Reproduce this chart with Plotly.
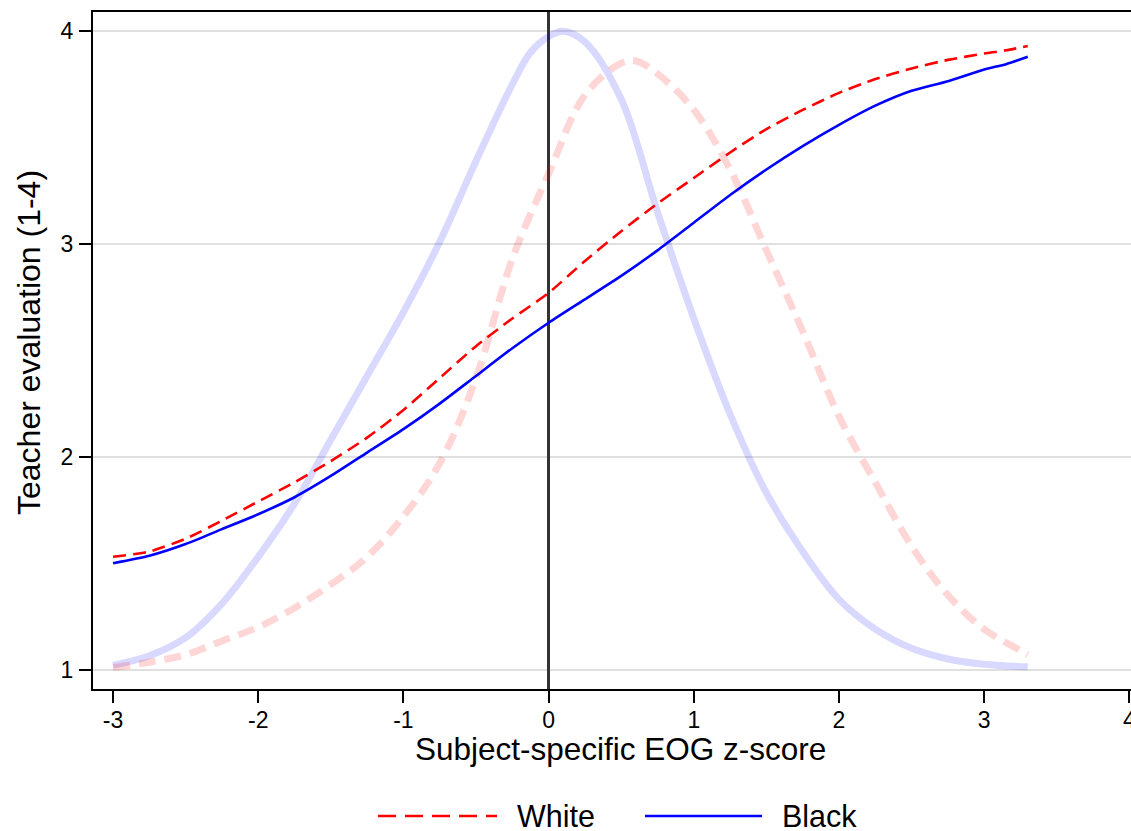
import plotly.graph_objects as go

# ---------------- data ----------------
z_grid = [-3.0, -2.75, -2.5, -2.25, -2.0, -1.75, -1.5, -1.25, -1.0, -0.75, -0.5, -0.25,
          0.0, 0.25, 0.5, 0.75, 1.0, 1.25, 1.5, 1.75, 2.0, 2.25, 2.5, 2.75, 3.0, 3.15, 3.3]

white_eval = [1.53, 1.555, 1.615, 1.70, 1.79, 1.88, 1.98, 2.09, 2.22, 2.37, 2.52, 2.65,
              2.77, 2.92, 3.06, 3.19, 3.31, 3.43, 3.54, 3.63, 3.71, 3.775, 3.825, 3.865, 3.895, 3.91, 3.93]
black_eval = [1.50, 1.535, 1.59, 1.66, 1.73, 1.81, 1.91, 2.02, 2.13, 2.25, 2.38, 2.51,
              2.63, 2.74, 2.85, 2.97, 3.10, 3.23, 3.35, 3.46, 3.56, 3.65, 3.72, 3.765, 3.82, 3.845, 3.88]

dens_x_black = [-3.0, -2.75, -2.5, -2.25, -2.0, -1.75, -1.5, -1.25, -1.0, -0.75, -0.5, -0.25,
                -0.125, 0.0, 0.1, 0.25, 0.5, 0.75, 1.0, 1.25, 1.5, 1.75, 2.0, 2.25, 2.5, 2.75, 3.0, 3.3]
dens_black = [1.02, 1.065, 1.15, 1.31, 1.53, 1.78, 2.08, 2.38, 2.68, 3.01, 3.39, 3.75,
              3.90, 3.975, 4.0, 3.95, 3.68, 3.15, 2.65, 2.20, 1.83, 1.555, 1.33, 1.19, 1.10, 1.05, 1.025, 1.013]

dens_x_white = [-3.0, -2.75, -2.5, -2.25, -2.0, -1.75, -1.5, -1.25, -1.0, -0.75, -0.5, -0.25,
                0.0, 0.25, 0.5, 0.6, 0.75, 1.0, 1.25, 1.5, 1.75, 2.0, 2.25, 2.5, 2.75, 3.0, 3.25, 3.3]
dens_white = [1.01, 1.035, 1.07, 1.135, 1.20, 1.29, 1.40, 1.53, 1.72, 1.97, 2.37, 2.93,
              3.33, 3.70, 3.85, 3.86, 3.80, 3.63, 3.35, 2.97, 2.59, 2.19, 1.88, 1.58, 1.35, 1.19, 1.09, 1.07]

x_ticks = [-3, -2, -1, 0, 1, 2, 3, 4]
y_ticks = [1, 2, 3, 4]
series_names = ["White", "Black"]

# ---------------- layout constants ----------------
W, H = 1131, 831
ML, MR, MT, MB = 93, 0, 12, 142
FONT = "Liberation Sans, Arial, sans-serif"
PW = W - ML - MR
PH = H - MT - MB


def px_x(p):
    return (p - ML) / PW


def px_y(p):
    return (H - MB - p) / PH


fig = go.Figure()

fig.add_trace(go.Scatter(x=dens_x_black, y=dens_black, mode="lines", showlegend=False,
                         line=dict(color="rgba(0,0,255,0.15)", width=7, shape="spline", smoothing=1.0),
                         hoverinfo="skip"))
fig.add_trace(go.Scatter(x=dens_x_white, y=dens_white, mode="lines", showlegend=False,
                         line=dict(color="rgba(255,0,0,0.16)", width=7, dash="17px,9px",
                                   shape="spline", smoothing=1.0),
                         hoverinfo="skip"))
fig.add_trace(go.Scatter(x=z_grid, y=white_eval, mode="lines", name=series_names[0], showlegend=False,
                         line=dict(color="#ff0000", width=2.6, dash="13px,7px", shape="spline", smoothing=0.6)))
fig.add_trace(go.Scatter(x=z_grid, y=black_eval, mode="lines", name=series_names[1], showlegend=False,
                         line=dict(color="#0000ff", width=2.6, shape="spline", smoothing=0.6)))

# manual legend (long line samples as in the reference)
leg_y = px_y(816)
fig.add_shape(type="line", xref="paper", yref="paper", x0=px_x(378), x1=px_x(497), y0=leg_y, y1=leg_y,
              line=dict(color="#ff0000", width=2.6, dash="18px,9px"))
fig.add_shape(type="line", xref="paper", yref="paper", x0=px_x(645), x1=px_x(762), y0=leg_y, y1=leg_y,
              line=dict(color="#0000ff", width=2.6))
fig.add_annotation(text=series_names[0], xref="paper", yref="paper", x=px_x(515), y=leg_y,
                   xanchor="left", yanchor="middle", showarrow=False,
                   font=dict(family=FONT, size=30.5, color="black"))
fig.add_annotation(text=series_names[1], xref="paper", yref="paper", x=px_x(780), y=leg_y,
                   xanchor="left", yanchor="middle", showarrow=False,
                   font=dict(family=FONT, size=30.5, color="black"))

# axis titles
fig.add_annotation(text="Subject-specific EOG z-score", xref="paper", yref="paper",
                   x=px_x(620), y=px_y(749), xanchor="center", yanchor="middle", showarrow=False,
                   font=dict(family=FONT, size=31.5, color="black"))
fig.add_annotation(text="Teacher evaluation (1-4)", xref="paper", yref="paper",
                   x=px_x(29), y=px_y(343), xanchor="center", yanchor="middle", showarrow=False,
                   textangle=-90, font=dict(family=FONT, size=32, color="black"))

fig.update_layout(
    width=W, height=H, autosize=False,
    margin=dict(l=ML, r=MR, t=MT, b=MB, pad=0),
    plot_bgcolor="white", paper_bgcolor="white",
    font=dict(family=FONT, color="black"),
    showlegend=False,
    xaxis=dict(range=[-3.138, 4.011], tickvals=x_ticks, ticktext=[str(v) for v in x_ticks],
               ticks="outside", ticklen=12, tickwidth=1.5, tickcolor="black",
               showline=True, linewidth=2, linecolor="black", mirror=True, automargin=False,
               showgrid=False, zeroline=True, zerolinecolor="#333333", zerolinewidth=2.5,
               tickfont=dict(family=FONT, size=23, color="black"),
               ticklabeloverflow="allow", ticklabelstandoff=-3),
    yaxis=dict(range=[0.909, 4.09], tickvals=y_ticks, ticktext=[str(v) for v in y_ticks],
               ticks="outside", ticklen=12, tickwidth=1.5, tickcolor="black",
               showline=True, linewidth=2, linecolor="black", mirror=False, automargin=False,
               showgrid=True, gridcolor="#e0e0e0", gridwidth=2, zeroline=False,
               tickfont=dict(family=FONT, size=23, color="black"), ticklabelstandoff=1),
)

fig.write_html("out.html", config={"displayModeBar": False},
               post_script="document.body.style.margin='0';document.body.style.overflow='hidden';")
